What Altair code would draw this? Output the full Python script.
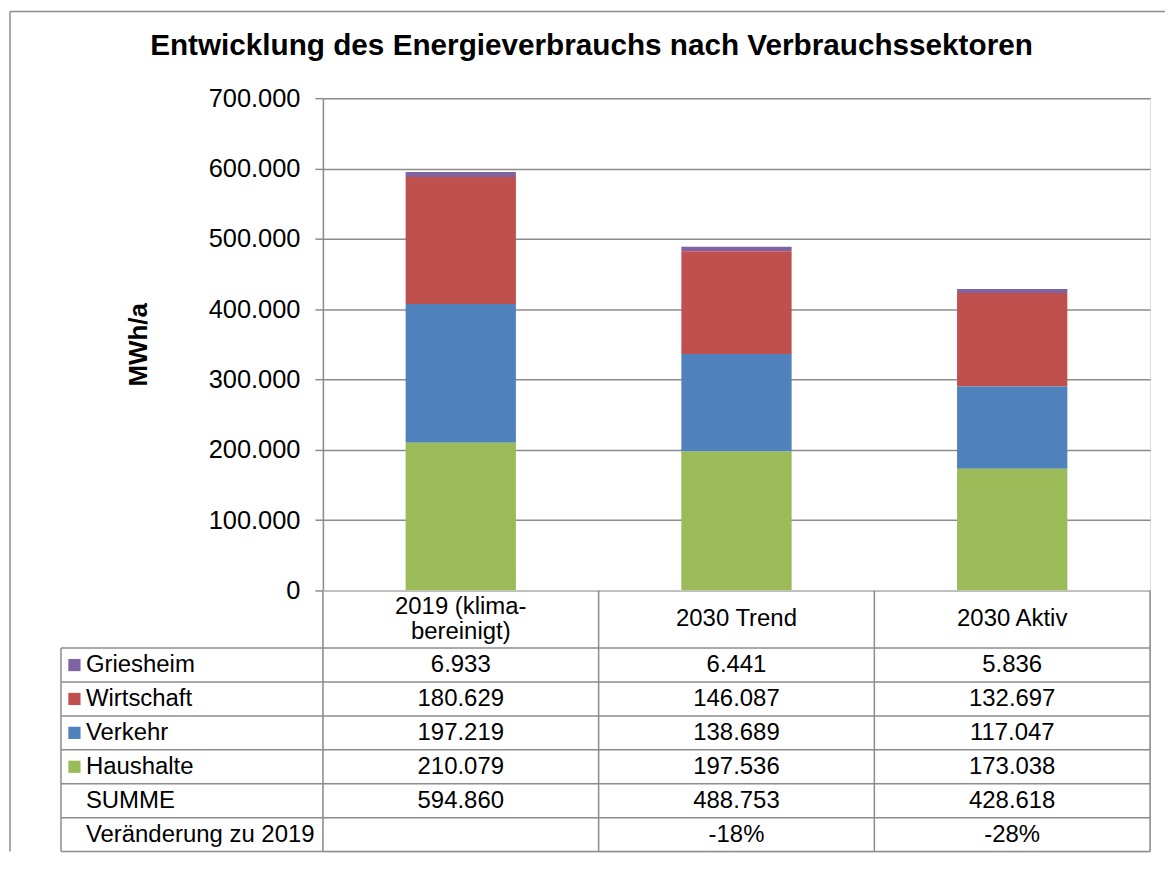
import altair as alt
import pandas as pd

# ---------------- data ----------------
chart_title = "Entwicklung des Energieverbrauchs nach Verbrauchssektoren"
categories = ["2019 (klima-bereinigt)", "2030 Trend", "2030 Aktiv"]
sectors = ["Griesheim", "Wirtschaft", "Verkehr", "Haushalte"]   # table order (top -> bottom)
griesheim = [6933, 6441, 5836]
wirtschaft = [180629, 146087, 132697]
verkehr = [197219, 138689, 117047]
haushalte = [210079, 197536, 173038]
sector_colors = ["#8064A2", "#C0504D", "#4F81BD", "#9BBB59"]
y_ticks = [0, 100000, 200000, 300000, 400000, 500000, 600000, 700000]
y_title = "MWh/a"
sum_label = "SUMME"
change_label = "Veränderung zu 2019"

series = {"Griesheim": griesheim, "Wirtschaft": wirtschaft,
          "Verkehr": verkehr, "Haushalte": haushalte}

FONT = "Liberation Sans"
LINE = "#8c8c8c"
W = 830          # plot width
H_TOP = 494      # plot height
LABEL_X = -0.95  # left edge of label column (in column units)
HEADER = 1.7     # header height (in row units)
N_ROWS = 6
ROW_PX = 34
LINE_H = 25
TABLE_H = int(round((HEADER + N_ROWS) * ROW_PX))


def de(n):
    return f"{n:,}".replace(",", ".")


# ---------------- bar chart ----------------
rows = []
for s_idx, s in enumerate(sectors):
    for c_idx, c in enumerate(categories):
        rows.append({"category": c, "sector": s, "value": series[s][c_idx],
                     "stack": len(sectors) - 1 - s_idx})
bars_df = pd.DataFrame(rows)

color_scale = alt.Scale(domain=sectors, range=sector_colors)

bars = alt.Chart(bars_df).mark_bar().encode(
    x=alt.X("category:N", sort=categories,
            scale=alt.Scale(paddingInner=0.6, paddingOuter=0.3), axis=None),
    y=alt.Y("value:Q", scale=alt.Scale(domain=[0, 700000], nice=False),
            stack="zero",
            axis=alt.Axis(values=y_ticks, title=y_title,
                          labelExpr="replace(format(datum.value, ','), ',', '.')",
                          grid=True, gridColor=LINE, gridWidth=1.5,
                          domainColor=LINE, domainWidth=1.5,
                          tickColor=LINE, tickWidth=1.5, tickSize=8,
                          labelFont=FONT, labelFontSize=25.5, labelColor="black",
                          labelPadding=15,
                          titleFont=FONT, titleFontSize=26, titleFontWeight="bold",
                          titleColor="black", titlePadding=57)),
    color=alt.Color("sector:N", scale=color_scale, legend=None),
    order=alt.Order("stack:Q"),
)

one = pd.DataFrame({"k": [0]})
frame_top = alt.Chart(one).mark_rule(color=LINE, strokeWidth=1.5).encode(
    x=alt.value(-314), x2=alt.value(845), y=alt.value(-87))
frame_left = alt.Chart(one).mark_rule(color=LINE, strokeWidth=1.5).encode(
    x=alt.value(-314), y=alt.value(-87), y2=alt.value(H_TOP + TABLE_H))
title_text = alt.Chart(one).mark_text(
    text=chart_title, font=FONT, fontSize=29.8, fontWeight="bold", color="black",
    align="center", baseline="alphabetic").encode(
    x=alt.value(269.5), y=alt.value(-43))

top = alt.layer(frame_top, frame_left, title_text, bars).properties(width=W, height=H_TOP)

# ---------------- data table ----------------
total_rows = HEADER + N_ROWS
hl = [{"x": LABEL_X, "x2": len(categories), "y": HEADER + k} for k in range(N_ROWS + 1)]
vl = [{"x": float(c), "y": 0.0, "y2": total_rows} for c in range(len(categories) + 1)]
vl.append({"x": LABEL_X, "y": HEADER, "y2": total_rows})
hl_df = pd.DataFrame(hl)
vl_df = pd.DataFrame(vl)

xs = alt.Scale(domain=[0, len(categories)], nice=False, zero=False)
ys = alt.Scale(domain=[0, total_rows], nice=False, zero=False, reverse=True)

hlines = alt.Chart(hl_df).mark_rule(color=LINE, strokeWidth=1.5).encode(
    x=alt.X("x:Q", scale=xs, axis=None), x2="x2:Q",
    y=alt.Y("y:Q", scale=ys, axis=None))
vlines = alt.Chart(vl_df).mark_rule(color=LINE, strokeWidth=1.5).encode(
    x=alt.X("x:Q", scale=xs, axis=None),
    y=alt.Y("y:Q", scale=ys, axis=None), y2="y2:Q")

# cell texts
sums = [sum(series[s][i] for s in sectors) for i in range(len(categories))]
changes = [""] + [f"{round((sums[i] / sums[0] - 1) * 100):d}%" for i in range(1, len(categories))]

cells = []
for i, c in enumerate(categories):
    t = c.replace("-", "-\n", 1)
    n_lines = t.count("\n") + 1
    cells.append({"x": i + 0.5,
                  "y": HEADER / 2 - (n_lines - 1) * (LINE_H / ROW_PX) / 2,
                  "t": t})
for r, s in enumerate(sectors):
    for i in range(len(categories)):
        cells.append({"x": i + 0.5, "y": HEADER + r + 0.5, "t": de(series[s][i])})
for i in range(len(categories)):
    cells.append({"x": i + 0.5, "y": HEADER + 4.5, "t": de(sums[i])})
    cells.append({"x": i + 0.5, "y": HEADER + 5.5, "t": changes[i]})
cells_df = pd.DataFrame(cells)

cell_text = alt.Chart(cells_df).mark_text(
    font=FONT, fontSize=24, color="black", lineBreak="\n", lineHeight=LINE_H,
    align="center", baseline="middle").encode(
    x=alt.X("x:Q", scale=xs, axis=None),
    y=alt.Y("y:Q", scale=ys, axis=None),
    text="t:N")

labels = [{"x": LABEL_X, "y": HEADER + r + 0.5, "t": s, "sector": s} for r, s in enumerate(sectors)]
labels.append({"x": LABEL_X, "y": HEADER + 4.5, "t": sum_label, "sector": None})
labels.append({"x": LABEL_X, "y": HEADER + 5.5, "t": change_label, "sector": None})
labels_df = pd.DataFrame(labels)

label_text = alt.Chart(labels_df).mark_text(
    font=FONT, fontSize=24, color="black", align="left", baseline="middle", dx=25).encode(
    x=alt.X("x:Q", scale=xs, axis=None),
    y=alt.Y("y:Q", scale=ys, axis=None),
    text="t:N")

swatches = alt.Chart(labels_df.dropna()).mark_square(size=150, opacity=1, xOffset=13.5).encode(
    x=alt.X("x:Q", scale=xs, axis=None),
    y=alt.Y("y:Q", scale=ys, axis=None),
    color=alt.Color("sector:N", scale=color_scale, legend=None))

table = alt.layer(hlines, vlines, cell_text, label_text, swatches).properties(
    width=W, height=TABLE_H)

chart = alt.vconcat(top, table, spacing=0, bounds="flush").properties(
    padding={"left": 0, "top": 0, "right": 0, "bottom": 0},
).configure_view(stroke=None).configure(font=FONT, padding=0)

chart.save("out.html", embed_options={"renderer": "svg", "actions": False})
